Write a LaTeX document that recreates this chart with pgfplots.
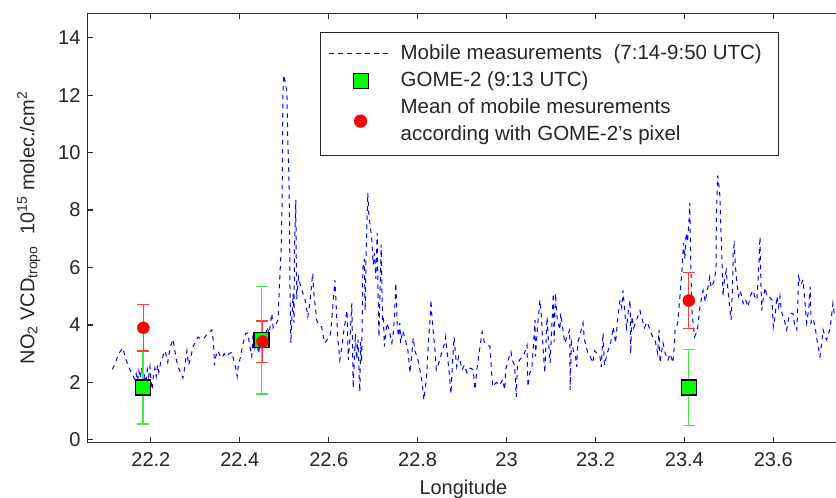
\documentclass[border=0pt]{standalone}
\usepackage{fontspec}
\setmainfont{Liberation Sans}
\usepackage{pgfplots}
\pgfplotsset{compat=1.18}

\definecolor{axgray}{RGB}{38,38,38}
\definecolor{mgreen}{RGB}{0,255,0}
\definecolor{egreen}{RGB}{70,230,70}
\definecolor{ered}{RGB}{255,60,60}

\pgfplotsset{
  dashleg/.style={legend image code/.code={\draw[##1] (0bp,0bp) -- (63bp,0bp);}},
  markleg/.style={legend image code/.code={\draw[mark repeat=2,mark phase=2,##1] plot coordinates {(0bp,0bp) (31.5bp,0bp) (63bp,0bp)};}},
  markleglow/.style={legend image code/.code={\draw[overlay,mark repeat=2,mark phase=2,##1] plot coordinates {(0bp,-13.5bp) (31.5bp,-13.5bp) (63bp,-13.5bp)};}},
}

\begin{document}
\fontsize{20bp}{26bp}\selectfont
\begin{tikzpicture}
\begin{axis}[
  scale only axis,
  width=800.28bp, height=429.4bp,
  xmin=22.057, xmax=23.857,
  ymin=-0.1, ymax=14.85,
  xtick={22.2,22.4,22.6,22.8,23,23.2,23.4,23.6},
  ytick={0,2,...,14},
  /pgf/number format/assume math mode=true,
  axis line style={axgray, line width=1.4bp},
  every tick/.style={axgray, line width=1.2bp},
  major tick length=6bp,
  tick align=inside,
  tick label style={text=axgray},
  xticklabel style={yshift=-3bp},
  xlabel={Longitude},
  xlabel style={at={(rel axis cs:0.470,0)}, anchor=base, yshift=-52bp, text=axgray},
  ylabel={NO\textsubscript{2} VCD\textsubscript{tropo}\ \ 10\textsuperscript{15} molec./cm\textsuperscript{2}},
  ylabel style={at={(rel axis cs:0,0.5)}, anchor=base, yshift=53bp, text=axgray},
  legend cell align=left,
  legend style={at={(0.2908,0.9558)}, anchor=north west, draw=axgray, line width=1.2bp,
    inner xsep=8bp, inner ysep=8.5bp, row sep=2.5bp, column sep=6bp,
    font=\fontsize{20.5bp}{24bp}\selectfont,
    nodes={inner sep=2bp, text height=16bp, text depth=4.5bp, text=axgray}},
]
\addplot[blue, line width=1bp, dash pattern=on 4.5bp off 4.5bp, dashleg]
coordinates {
(22.113,2.45) (22.118,2.6) (22.124,2.85) (22.130,3.05) (22.137,3.2) (22.141,2.95)
(22.145,2.75) (22.149,2.6) (22.154,2.4) (22.160,2.23) (22.164,2.1) (22.167,2.3)
(22.170,2.05) (22.173,2.4) (22.176,2.15) (22.179,2.5) (22.183,2.0) (22.186,2.3)
(22.189,1.95) (22.192,2.45) (22.195,2.2) (22.198,2.55) (22.200,2.1) (22.203,1.74)
(22.206,2.3) (22.209,2.5) (22.212,2.2) (22.215,2.6) (22.218,2.35) (22.222,2.7)
(22.227,2.9) (22.232,3.1) (22.238,2.7) (22.243,3.2) (22.250,3.5) (22.255,3.0)
(22.260,2.6) (22.265,2.4) (22.272,2.15) (22.276,2.5) (22.281,3.1) (22.285,2.6)
(22.290,2.9) (22.295,3.25) (22.300,3.4) (22.306,3.58) (22.313,3.5) (22.320,3.55)
(22.328,3.7) (22.337,3.83) (22.340,3.5) (22.342,3.1) (22.343,2.6) (22.346,2.9)
(22.350,3.1) (22.355,2.95) (22.360,2.85) (22.365,3.0) (22.370,2.9) (22.376,3.0)
(22.382,3.05) (22.386,2.8) (22.389,2.65) (22.392,2.4) (22.394,2.2) (22.396,2.5)
(22.400,2.78) (22.404,3.1) (22.408,3.4) (22.413,3.7) (22.418,3.72) (22.422,3.3)
(22.427,2.9) (22.430,3.7) (22.434,3.2) (22.438,3.5) (22.442,3.0) (22.446,3.4)
(22.450,3.6) (22.455,3.3) (22.461,3.93) (22.466,3.7) (22.472,4.4) (22.475,3.9)
(22.480,4.0) (22.486,4.17) (22.490,5.67) (22.493,6.6) (22.495,8.1) (22.497,12.07)
(22.499,12.7) (22.503,12.4) (22.506,12.07) (22.508,10.4) (22.510,9.5) (22.512,7.4)
(22.513,5.1) (22.515,3.37) (22.517,4.2) (22.520,5.1) (22.522,4.07) (22.523,6.8)
(22.526,8.35) (22.527,6.3) (22.528,4.9) (22.532,5.67) (22.536,5.4) (22.540,5.2)
(22.544,5.0) (22.547,4.87) (22.550,4.6) (22.553,4.28) (22.557,4.7) (22.561,5.3)
(22.564,5.8) (22.566,5.2) (22.570,4.6) (22.573,4.17) (22.578,4.0) (22.584,3.93)
(22.588,3.6) (22.591,3.37) (22.597,3.5) (22.603,3.58) (22.607,4.2) (22.611,5.0)
(22.614,5.57) (22.617,4.6) (22.620,3.6) (22.625,2.78) (22.630,3.3) (22.635,3.9)
(22.641,4.5) (22.644,2.78) (22.648,3.6) (22.652,4.75) (22.655,1.8) (22.658,2.9)
(22.660,3.7) (22.663,2.8) (22.666,3.5) (22.668,2.4) (22.670,1.67) (22.672,3.4)
(22.674,2.7) (22.677,6.0) (22.680,6.3) (22.682,4.5) (22.684,6.4) (22.686,7.5)
(22.688,8.6) (22.690,7.9) (22.693,7.5) (22.697,6.95) (22.700,6.1) (22.703,6.5)
(22.706,5.6) (22.709,7.2) (22.711,5.1) (22.713,3.58) (22.715,5.0) (22.718,6.8)
(22.720,5.0) (22.721,4.17) (22.723,4.28) (22.725,3.25) (22.731,4.07) (22.736,3.8)
(22.742,3.37) (22.745,3.7) (22.748,4.3) (22.751,5.46) (22.754,4.0) (22.757,3.6)
(22.760,4.07) (22.762,3.37) (22.766,3.8) (22.771,3.58) (22.775,3.3) (22.778,3.13)
(22.783,2.33) (22.787,3.0) (22.790,3.55) (22.794,3.1) (22.798,2.9) (22.802,2.7)
(22.805,2.44) (22.808,2.2) (22.810,2.0) (22.814,1.39) (22.818,1.9) (22.821,2.44)
(22.825,3.58) (22.828,4.2) (22.830,4.87) (22.832,4.3) (22.836,3.6) (22.839,3.13)
(22.842,2.44) (22.846,2.6) (22.850,2.78) (22.855,3.1) (22.861,3.37) (22.863,3.58)
(22.868,2.8) (22.873,2.0) (22.875,1.6) (22.878,2.6) (22.882,3.58) (22.885,3.0)
(22.888,2.54) (22.892,2.9) (22.895,2.78) (22.900,2.44) (22.905,2.6) (22.911,2.33)
(22.918,2.5) (22.925,2.44) (22.929,1.74) (22.933,2.44) (22.939,3.1) (22.945,3.76)
(22.950,3.4) (22.957,3.3) (22.963,3.25) (22.966,2.4) (22.969,1.85) (22.977,2.0)
(22.985,1.9) (22.991,2.1) (22.996,1.74) (22.998,2.44) (23.004,2.8) (23.010,3.06)
(23.012,2.8) (23.018,2.6) (23.022,1.5) (23.024,2.44) (23.026,2.68) (23.030,2.8)
(23.037,2.9) (23.042,3.1) (23.046,3.3) (23.048,1.85) (23.052,2.3) (23.057,2.54)
(23.061,3.4) (23.064,4.17) (23.065,2.9) (23.070,4.0) (23.075,4.87) (23.078,4.4)
(23.082,3.2) (23.086,2.33) (23.091,4.28) (23.094,3.5) (23.098,2.68) (23.102,4.0)
(23.105,5.1) (23.107,3.4) (23.110,5.1) (23.114,4.2) (23.120,3.83) (23.122,4.4)
(23.127,3.8) (23.131,3.37) (23.136,3.6) (23.142,3.83) (23.143,1.74) (23.146,3.4)
(23.150,3.13) (23.155,2.9) (23.158,2.54) (23.160,3.37) (23.166,3.7) (23.172,4.07)
(23.175,3.5) (23.180,3.2) (23.183,3.0) (23.188,2.9) (23.194,2.68) (23.198,3.1)
(23.204,3.0) (23.210,2.9) (23.213,2.54) (23.217,3.72) (23.220,2.6) (23.226,3.0)
(23.234,3.37) (23.240,3.93) (23.245,3.37) (23.250,4.2) (23.255,4.87) (23.259,4.6)
(23.262,5.2) (23.266,4.4) (23.270,3.9) (23.274,4.5) (23.278,4.87) (23.279,3.0)
(23.282,4.3) (23.286,3.9) (23.290,4.07) (23.295,4.3) (23.300,4.5) (23.305,4.2)
(23.310,3.9) (23.316,4.1) (23.323,3.83) (23.328,3.6) (23.334,3.48) (23.340,3.0)
(23.343,3.83) (23.345,2.68) (23.349,3.1) (23.352,3.37) (23.357,3.0) (23.363,2.78)
(23.368,3.0) (23.374,2.68) (23.377,3.2) (23.379,3.83) (23.385,4.07) (23.390,5.0)
(23.395,6.0) (23.398,6.85) (23.401,6.3) (23.404,7.2) (23.407,6.9) (23.410,7.55)
(23.412,8.25) (23.414,6.4) (23.415,5.67) (23.417,4.5) (23.420,4.0) (23.423,3.58)
(23.426,3.7) (23.430,3.93) (23.435,4.63) (23.442,5.2) (23.447,4.8) (23.450,5.1)
(23.454,5.4) (23.457,5.67) (23.460,5.3) (23.466,5.5) (23.471,5.9) (23.472,7.77)
(23.475,9.2) (23.478,8.8) (23.480,8.45) (23.482,7.3) (23.484,6.6) (23.487,5.0)
(23.490,5.6) (23.494,5.9) (23.498,5.2) (23.502,4.6) (23.505,4.17) (23.508,5.2)
(23.510,6.6) (23.512,6.8) (23.515,6.0) (23.518,5.46) (23.522,5.0) (23.525,5.2)
(23.529,5.0) (23.532,4.75) (23.537,4.9) (23.543,4.63) (23.548,5.0) (23.554,5.2)
(23.558,5.0) (23.563,4.87) (23.567,5.9) (23.570,7.07) (23.572,5.5) (23.574,4.5)
(23.578,5.0) (23.582,5.3) (23.585,5.0) (23.590,5.0) (23.597,4.87) (23.600,3.93)
(23.604,4.3) (23.608,5.0) (23.612,4.63) (23.615,5.0) (23.618,4.5) (23.622,4.28)
(23.626,4.1) (23.630,3.83) (23.634,4.2) (23.638,4.4) (23.644,4.4) (23.648,4.0)
(23.653,3.83) (23.657,5.67) (23.662,5.4) (23.667,5.57) (23.671,4.8) (23.675,4.07)
(23.680,4.6) (23.683,5.33) (23.685,4.07) (23.690,4.2) (23.694,3.93) (23.698,3.5)
(23.701,3.25) (23.705,2.9) (23.709,3.4) (23.712,3.83) (23.716,3.6) (23.720,3.48)
(23.724,3.7) (23.727,3.83) (23.731,4.3) (23.734,4.75) (23.737,4.4) (23.745,4.7)
(23.752,4.9) (23.760,5.0)
};
\addlegendentry{Mobile measurements\ \ (7:14-9:50 UTC)\rule{7bp}{0bp}}

\addplot[only marks, mark=square*, mark size=7.5bp, markleg,
  mark options={fill=mgreen, draw=black, line width=1.2bp},
  error bars/.cd, y dir=both, y explicit,
  error bar style={egreen, line width=1.3bp},
  error mark options={rotate=90, egreen, mark size=6bp, line width=1.3bp}]
coordinates {
(22.182,1.82) +- (0,1.27)
(22.449,3.47) +- (0,1.87)
(23.410,1.82) +- (0,1.32)
};
\addlegendentry{GOME-2 (9:13 UTC)}

\addplot[only marks, mark=*, mark size=6bp, markleglow,
  mark options={fill=red, draw=red},
  error bars/.cd, y dir=both, y explicit,
  error bar style={ered, line width=1.3bp},
  error mark options={rotate=90, ered, mark size=6bp, line width=1.3bp}]
coordinates {
(22.183,3.90) +- (0,0.81)
(22.451,3.42) +- (0,0.72)
(23.410,4.85) +- (0,0.97)
};
\addlegendentry{Mean of mobile mesurements}
\addlegendimage{empty legend}
\addlegendentry{according with GOME-2's pixel}
\end{axis}
\pgfresetboundingbox
\useasboundingbox (-87.3bp,-55.3bp) rectangle (748.7bp,442.7bp);
\end{tikzpicture}
\end{document}
